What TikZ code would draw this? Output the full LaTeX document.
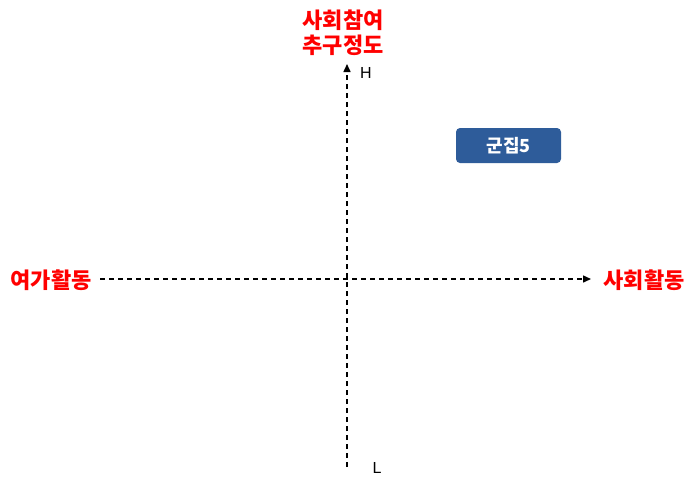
\documentclass[tikz,border=0pt]{standalone}
\usepackage{fontspec}
\setmainfont{Liberation Sans}
\newfontfamily\kr{Noto Sans CJK KR}
\usetikzlibrary{arrows.meta}
\definecolor{boxblue}{HTML}{2E5C9A}
\tikzset{
  axis/.style={line width=1.5pt, dash pattern=on 5pt off 4pt, -{Triangle[length=8pt,width=7pt]}},
  redlabel/.style={text=red, font=\kr\bfseries\fontsize{22}{25}\selectfont, align=center, inner sep=0pt},
  ticklabel/.style={font=\fontsize{16}{18}\selectfont, inner sep=0pt},
  clusterbox/.style={fill=boxblue, rounded corners=4pt, text=white, font=\kr\bfseries\fontsize{18}{20}\selectfont, minimum width=105pt, minimum height=35pt, inner sep=0pt}
}
\begin{document}
\begin{tikzpicture}[x=1pt,y=-1pt]
\useasboundingbox (0,0) rectangle (687,477);
\coordinate (vbot) at (347,467);
\coordinate (vtop) at (347,64);
\coordinate (hleft) at (100,279);
\coordinate (hright) at (591,279);
\draw[axis] (vbot) -- (vtop);
\draw[axis] (hleft) -- (hright);
\node[redlabel] (ytitle) at (343,32.5) {사회참여\\추구정도};
\node[redlabel] (xleft) at (51,280) {여가활동};
\node[redlabel] (xright) at (644,280) {사회활동};
\node[ticklabel] (hlab) at (366,73) {H};
\node[ticklabel] (llab) at (377,468) {L};
\node[clusterbox] (c5) at (508.5,145.5) {군집5};
\end{tikzpicture}
\end{document}
